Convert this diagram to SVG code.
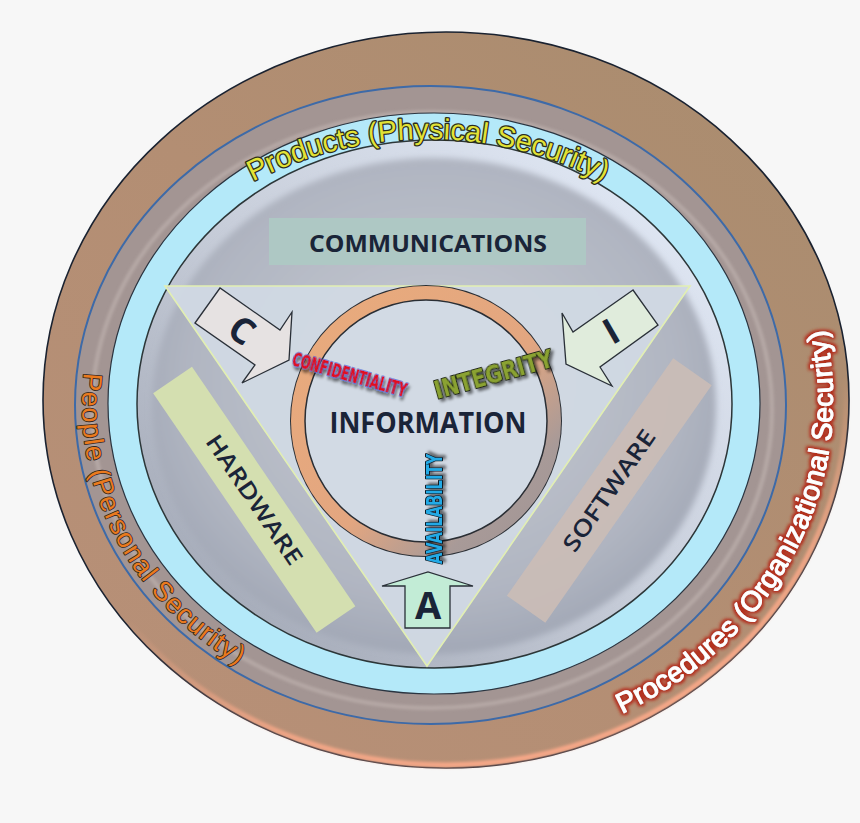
<svg xmlns="http://www.w3.org/2000/svg" width="860" height="823" viewBox="0 0 860 823">
<defs>
<linearGradient id="gBrown" x1="0" y1="1" x2="1" y2="0">
<stop offset="0" stop-color="#b89078"/><stop offset="0.5" stop-color="#b38e73"/><stop offset="1" stop-color="#a88c6e"/>
</linearGradient>
<linearGradient id="gSalmon" x1="0.25" y1="0.2" x2="0.55" y2="1">
<stop offset="0" stop-color="#f6a888" stop-opacity="0"/><stop offset="0.6" stop-color="#f6a888" stop-opacity="0"/><stop offset="0.85" stop-color="#f8a888" stop-opacity="0.9"/><stop offset="1" stop-color="#f8a888" stop-opacity="1"/>
</linearGradient>
<linearGradient id="gRim" x1="1" y1="0" x2="0" y2="1">
<stop offset="0" stop-color="#e6eefb"/><stop offset="0.5" stop-color="#c8ceda"/><stop offset="1" stop-color="#9aa0ae"/>
</linearGradient>
<radialGradient id="gPlate" cx="0.5" cy="0.45" r="0.55">
<stop offset="0" stop-color="#c8ccd4"/><stop offset="0.8" stop-color="#b0b5c1"/><stop offset="1" stop-color="#a2a8b6"/>
</radialGradient>
<linearGradient id="gRing" x1="0" y1="0" x2="1" y2="1">
<stop offset="0" stop-color="#e9ab7c"/><stop offset="0.55" stop-color="#e3a680"/><stop offset="0.8" stop-color="#a89a98"/><stop offset="1" stop-color="#a09494"/>
</linearGradient>
<filter id="soft" x="-5%" y="-5%" width="110%" height="110%"><feGaussianBlur stdDeviation="3"/></filter>
<filter id="blur1" x="-5%" y="-5%" width="110%" height="110%"><feGaussianBlur stdDeviation="1.5"/></filter>
<filter id="shadow" x="-30%" y="-60%" width="160%" height="220%"><feDropShadow dx="2" dy="3" stdDeviation="1.5" flood-color="#000" flood-opacity="0.55"/></filter>
<filter id="redglow" x="-10%" y="-10%" width="120%" height="120%">
<feMorphology in="SourceAlpha" operator="dilate" radius="2" result="d"/>
<feGaussianBlur in="d" stdDeviation="1.6" result="b"/>
<feFlood flood-color="#b3301f"/>
<feComposite in2="b" operator="in" result="g"/>
<feMerge><feMergeNode in="g"/><feMergeNode in="SourceGraphic"/></feMerge>
</filter>
<path id="pProducts" d="M 178,232.2 A 382 382 0 0 1 678,232.2"/>
<path id="pPeople" d="M 87.3,350.8 A 350 312 0 0 0 312.3,698.2"/>
<path id="pProcedures" d="M 578.4,730.8 A 387 352 0 0 0 809.7,279.6"/>
<style>
.ring-label{font-family:"Liberation Sans",Arial,sans-serif;paint-order:stroke;stroke-linejoin:round;}
.dark{fill:#1a2438;font-family:"Open Sans","Liberation Sans",sans-serif;}
.arrow{stroke:#2a3038;stroke-width:1.3;stroke-linejoin:miter;}
.bar-text{font-size:23px;font-weight:600;}
.cia{font-family:"DejaVu Sans Condensed","DejaVu Sans",sans-serif;font-weight:bold;paint-order:stroke;stroke-linejoin:round;}
</style>
</defs>
<rect width="860" height="823" fill="#f7f7f7"/>

<g id="rings">
<ellipse cx="446" cy="400" rx="403" ry="368" fill="url(#gBrown)" stroke="#1a2230" stroke-width="1.6"/>
<ellipse cx="446" cy="400" rx="400" ry="365" fill="none" stroke="url(#gSalmon)" stroke-width="5" filter="url(#blur1)"/>
<ellipse cx="430.5" cy="405" rx="355.5" ry="319" fill="#a39593" stroke="#3d6aa8" stroke-width="2"/>
<ellipse cx="432" cy="410" rx="340" ry="298" fill="none" stroke="#c6bab6" stroke-width="4" opacity="0.55" filter="url(#blur1)"/>
<ellipse cx="434" cy="403.5" rx="326" ry="290.5" fill="#b4e9f9" stroke="#2a3440" stroke-width="1.2"/>
<ellipse cx="434.5" cy="404" rx="297.5" ry="264" fill="url(#gRim)" stroke="#2c3638" stroke-width="1.5"/>
<ellipse cx="434" cy="406" rx="282" ry="248" fill="url(#gPlate)" filter="url(#soft)"/>
</g>

<g id="products-label">
<text class="ring-label" font-size="29" fill="#e2e236" stroke="#2a2c1e" stroke-width="2.6" text-anchor="middle"><textPath href="#pProducts" startOffset="50%" textLength="364" lengthAdjust="spacing">Products (Physical Security)</textPath></text>
</g>
<g id="people-label">
<text class="ring-label" font-size="27" fill="#ea7a1e" stroke="#2e2620" stroke-width="1.6"><textPath href="#pPeople" startOffset="22" textLength="350" lengthAdjust="spacing">People (Personal Security)</textPath></text>
</g>
<g id="procedures-label">
<text class="ring-label" font-size="28" fill="#ffffff" stroke="#ffffff" stroke-width="1" filter="url(#redglow)"><textPath href="#pProcedures" startOffset="47" textLength="470" lengthAdjust="spacing">Procedures (Organizational Security)</textPath></text>
</g>

<g id="triangle">
<polygon points="165,286 690,286 427,666" fill="#d0d9e3" fill-opacity="0.96" stroke="#e2efb2" stroke-width="1.6"/>
</g>

<g id="communications">
<rect x="269" y="218" width="317" height="47" fill="#aec8c4"/>
<text class="dark" x="428" y="252" font-size="24" font-weight="bold" text-anchor="middle" textLength="238" lengthAdjust="spacingAndGlyphs">COMMUNICATIONS</text>
</g>

<g id="hardware" transform="translate(254.25,499.75) rotate(55.7)">
<rect x="-145" y="-23.5" width="290" height="47" fill="#d4dfb0"/>
<text class="dark bar-text" x="0" y="8" text-anchor="middle" textLength="152" lengthAdjust="spacingAndGlyphs">HARDWARE</text>
</g>

<g id="software" transform="translate(609.25,490.5) rotate(-55)">
<rect x="-145" y="-23.5" width="290" height="47" fill="#cbbdb6" fill-opacity="0.9"/>
<text class="dark bar-text" x="0" y="8" text-anchor="middle" textLength="143" lengthAdjust="spacingAndGlyphs">SOFTWARE</text>
</g>

<g id="information">
<circle cx="426" cy="421" r="136" fill="#2a2e34"/>
<circle cx="426" cy="421" r="128" fill="none" stroke="url(#gRing)" stroke-width="14"/>
<circle cx="426" cy="421" r="121" fill="#d2dae4" stroke="#2a2e34" stroke-width="1.5"/>
<text class="dark" x="428" y="433" font-size="28" font-weight="bold" text-anchor="middle" textLength="197" lengthAdjust="spacingAndGlyphs">INFORMATION</text>
</g>

<g id="connectors">
<g id="arrow-c">
<polygon class="arrow" points="195,323 220,288 280,330 292,312 289,360 242,383 255,365" fill="#e6e2e2"/>
<text class="dark" x="242" y="343" font-size="36" font-weight="bold" text-anchor="middle" transform="rotate(35 242 330)">C</text>
</g>
<g id="arrow-i">
<polygon class="arrow" points="633,290 573,332 562,313 566,364 612,386 600,367 658,325" fill="#e0ecdc"/>
<text class="dark" x="611" y="344" font-size="36" font-weight="bold" text-anchor="middle" transform="rotate(-30 611 331)">I</text>
</g>
<g id="arrow-a">
<polygon class="arrow" points="405,628 405,586 382,586 428,572 473,586 450,586 450,628" fill="#c2ecd6"/>
<text class="dark" x="428" y="619" font-size="38" font-weight="bold" text-anchor="middle">A</text>
</g>
</g>

<g id="confidentiality">
<text class="cia" x="291" y="365" font-size="19" fill="#e2101c" stroke="#4a6ad8" stroke-width="1.4" filter="url(#shadow)" textLength="118" lengthAdjust="spacingAndGlyphs" transform="rotate(15.8 291 365)">CONFIDENTIALITY</text>
</g>
<g id="integrity">
<text class="cia" x="437" y="399" font-size="25" fill="#8aa232" stroke="#1c2414" stroke-width="2" filter="url(#shadow)" textLength="122" lengthAdjust="spacingAndGlyphs" transform="rotate(-15.6 437 399)">INTEGRITY</text>
</g>
<g id="availability">
<text class="cia" x="442" y="564" font-size="22" fill="#22aae6" stroke="#101c28" stroke-width="1.8" filter="url(#shadow)" textLength="110" lengthAdjust="spacingAndGlyphs" transform="rotate(-90 442 564)">AVAILABILITY</text>
</g>
</svg>
